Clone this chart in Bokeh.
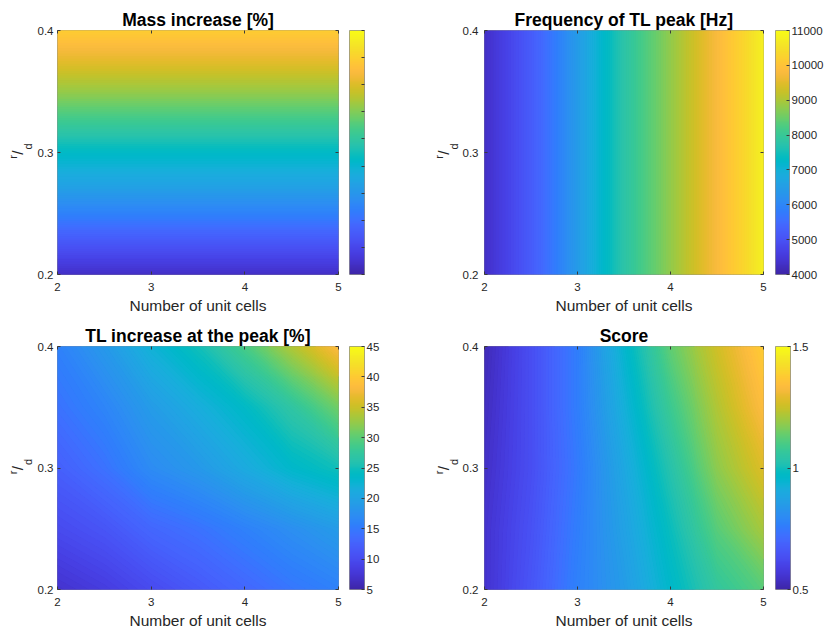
import numpy as np
from bokeh.plotting import figure
from bokeh.models import (LinearColorMapper, FixedTicker, LinearAxis,
                          CustomJSTickFormatter, Range1d)
from bokeh.core.properties import value
from bokeh.layouts import row, column
from bokeh.embed import file_html
from bokeh.resources import INLINE

# ---------------- data ----------------
n_cells = [2.0, 2.5, 3.0, 3.5, 4.0, 4.5, 5.0]
r_over_d = [0.20, 0.25, 0.30, 0.35, 0.40]
n_cells_fine = [2.0, 2.25, 2.5, 2.75, 3.0, 3.25, 3.5, 3.75, 4.0, 4.25, 4.5, 4.75, 5.0]
r_over_d_fine = [0.200, 0.225, 0.250, 0.275, 0.300, 0.325, 0.350, 0.375, 0.400]

x_ticks = [2, 3, 4, 5]
y_ticks = [0.2, 0.3, 0.4]

# Mass increase [%] vs r/d (constant along number of unit cells)
mass_increase = [2.36, 3.35, 4.43, 5.42, 6.23, 7.22, 8.21, 9.11, 9.92]
mass_cbar = [2, 11]
mass_cbar_ticks = [2, 3, 4, 5, 6, 7, 8, 9, 10, 11]

# Frequency of TL peak [Hz] vs number of unit cells
peak_frequency = [4280, 4700, 5190, 5750, 6450, 7150, 7780, 8300, 8800,
                  9300, 9800, 10250, 10790]
freq_cbar = [4000, 11000]
freq_cbar_ticks = [4000, 5000, 6000, 7000, 8000, 9000, 10000, 11000]

# TL increase at the peak [%]; rows = r/d (0.2 -> 0.4), cols = unit cells (2 -> 5)
tl_increase = [
    [7.0, 8.2, 9.8, 11.4, 13.0, 14.6, 15.8],
    [9.8, 11.0, 13.0, 14.2, 15.8, 17.4, 19.0],
    [12.2, 14.2, 17.0, 18.6, 21.0, 23.4, 25.0],
    [14.2, 16.2, 19.0, 21.4, 23.8, 27.0, 31.0],
    [15.8, 18.6, 22.2, 25.0, 29.0, 33.8, 38.6],
]
tl_cbar = [5, 45]
tl_cbar_ticks = [5, 10, 15, 20, 25, 30, 35, 40, 45]

# Score; rows = r/d (0.2 -> 0.4), cols = unit cells (2 -> 5)
score = [
    [0.55, 0.65, 0.77, 0.85, 0.96, 1.06, 1.12],
    [0.55, 0.64, 0.76, 0.87, 0.99, 1.12, 1.21],
    [0.54, 0.63, 0.75, 0.89, 1.03, 1.18, 1.28],
    [0.53, 0.63, 0.76, 0.92, 1.08, 1.22, 1.34],
    [0.52, 0.63, 0.76, 0.95, 1.13, 1.26, 1.38],
]
score_cbar = [0.5, 1.5]
score_cbar_ticks = [0.5, 1.0, 1.5]
score_cbar_labels = ["0.5", "1", "1.5"]

titles = ["Mass increase [%]", "Frequency of TL peak [Hz]",
          "TL increase at the peak [%]", "Score"]
x_label = "Number of unit cells"
y_label_parts = ["r", "/", "d"]

# ---------------- style ----------------
PARULA64 = [
    [0.2422, 0.1504, 0.6603], [0.2504, 0.1650, 0.7076], [0.2578, 0.1818, 0.7511],
    [0.2647, 0.1978, 0.7952], [0.2706, 0.2147, 0.8364], [0.2751, 0.2342, 0.8710],
    [0.2783, 0.2559, 0.8991], [0.2803, 0.2782, 0.9221], [0.2813, 0.3006, 0.9414],
    [0.2810, 0.3228, 0.9579], [0.2795, 0.3447, 0.9717], [0.2760, 0.3667, 0.9829],
    [0.2699, 0.3892, 0.9906], [0.2602, 0.4123, 0.9952], [0.2440, 0.4358, 0.9988],
    [0.2206, 0.4603, 0.9973], [0.1963, 0.4847, 0.9892], [0.1834, 0.5074, 0.9798],
    [0.1786, 0.5289, 0.9682], [0.1764, 0.5499, 0.9520], [0.1687, 0.5703, 0.9359],
    [0.1540, 0.5902, 0.9218], [0.1460, 0.6091, 0.9079], [0.1380, 0.6276, 0.8973],
    [0.1248, 0.6459, 0.8883], [0.1113, 0.6635, 0.8763], [0.0952, 0.6798, 0.8598],
    [0.0689, 0.6948, 0.8394], [0.0297, 0.7082, 0.8163], [0.0036, 0.7203, 0.7917],
    [0.0067, 0.7312, 0.7660], [0.0433, 0.7411, 0.7394], [0.0964, 0.7500, 0.7120],
    [0.1408, 0.7584, 0.6842], [0.1717, 0.7670, 0.6554], [0.1938, 0.7758, 0.6251],
    [0.2161, 0.7843, 0.5923], [0.2470, 0.7918, 0.5567], [0.2906, 0.7973, 0.5188],
    [0.3406, 0.8008, 0.4789], [0.3909, 0.8029, 0.4354], [0.4456, 0.8024, 0.3909],
    [0.5044, 0.7993, 0.3480], [0.5616, 0.7942, 0.3045], [0.6174, 0.7876, 0.2612],
    [0.6720, 0.7793, 0.2227], [0.7242, 0.7698, 0.1910], [0.7738, 0.7598, 0.1646],
    [0.8203, 0.7498, 0.1535], [0.8634, 0.7406, 0.1596], [0.9035, 0.7330, 0.1774],
    [0.9393, 0.7288, 0.2100], [0.9728, 0.7298, 0.2394], [0.9956, 0.7434, 0.2371],
    [0.9970, 0.7659, 0.2199], [0.9952, 0.7893, 0.2028], [0.9892, 0.8136, 0.1885],
    [0.9786, 0.8386, 0.1766], [0.9676, 0.8639, 0.1643], [0.9610, 0.8890, 0.1537],
    [0.9597, 0.9135, 0.1423], [0.9628, 0.9373, 0.1265], [0.9691, 0.9606, 0.1064],
    [0.9769, 0.9839, 0.0805],
]
_pa = np.array(PARULA64)
_t64 = np.linspace(0, 1, len(_pa))


def parula(t):
    t = min(max(float(t), 0.0), 1.0)
    rgb = [int(round(255 * np.interp(t, _t64, _pa[:, k]))) for k in range(3)]
    return "#%02x%02x%02x" % tuple(rgb)


PALETTE = [parula(t) for t in np.linspace(0, 1, 256)]

FONT = "Liberation Sans"
TXT = "#262626"
TICK = "#3a3a3a"
FRAME = "#8f8f8f"
N_LEVELS = 128
FILL_PASSES = 2

# layout (pixels)
TOP_H, BOT_H = 317, 315
TOP_BT, BOT_BT = 30, 29
TOP_FH, BOT_FH = 244, 243
CB_FRAME = 15
YL_L, L_W, L_LEFT, L_RIGHT, CL_W = 34, 315, 22, 11, 64
YL_R, R_W, R_LEFT, R_RIGHT, CR_W = 46, 316, 23, 12, 51
RD_STYLE = [(-43.5, -4.5, "11px"), (-39, 0, "15.5px"), (-29, 6, "11px")]


def empty_fmt():
    return CustomJSTickFormatter(code="return ''")


def extent(nodes):
    a = np.asarray(nodes, dtype=float)
    step = a[1] - a[0]
    return a[0] - step / 2.0, a[-1] - a[0] + step


def style_axis(ax, size="11.5px"):
    ax.axis_line_color = None
    ax.major_tick_in = 3
    ax.major_tick_out = 0
    ax.major_tick_line_color = TICK
    ax.minor_tick_line_color = None
    ax.major_label_text_font = FONT
    ax.major_label_text_font_size = size
    ax.major_label_text_color = TXT


def main_fig(title, width, left, right, height, top, frame_h, ylab_standoff):
    p = figure(width=width, height=height,
               x_range=Range1d(x_ticks[0], x_ticks[-1]),
               y_range=Range1d(y_ticks[0], y_ticks[-1]),
               min_border_left=left, min_border_right=right,
               min_border_top=top, min_border_bottom=height - top - frame_h,
               toolbar_location=None, output_backend="svg", title=title)
    p.title.text_font = FONT
    p.title.text_font_size = "17.5px"
    p.title.text_font_style = "bold"
    p.title.text_color = "black"
    p.title.align = "center"
    p.title.standoff = 1
    p.grid.visible = False
    p.outline_line_color = FRAME
    p.outline_line_width = 1
    p.background_fill_color = "white"
    p.border_fill_color = "white"

    p.xaxis.ticker = FixedTicker(ticks=x_ticks)
    p.yaxis.ticker = FixedTicker(ticks=y_ticks)
    for ax in (p.xaxis[0], p.yaxis[0]):
        style_axis(ax)
    p.xaxis.major_label_standoff = 8
    p.yaxis.major_label_standoff = ylab_standoff
    p.xaxis.axis_label = x_label
    p.xaxis.axis_label_text_font = FONT
    p.xaxis.axis_label_text_font_size = "15.5px"
    p.xaxis.axis_label_text_font_style = "normal"
    p.xaxis.axis_label_text_color = TXT
    p.xaxis.axis_label_standoff = 3

    top_ax = LinearAxis(ticker=FixedTicker(ticks=x_ticks), formatter=empty_fmt())
    right_ax = LinearAxis(ticker=FixedTicker(ticks=y_ticks), formatter=empty_fmt())
    for ax in (top_ax, right_ax):
        style_axis(ax, size="0px")
        ax.major_label_standoff = 0
    p.add_layout(top_ax, "above")
    p.add_layout(right_ax, "right")
    return p


def shade(p, mapper, xs, ys, z, lo, hi, img, ix, iy, idw, idh):
    # coarse cells underneath (hide anti-aliasing seams), then interpolated bands
    p.image(image=[np.asarray(img, float)], x=ix, y=iy, dw=idw, dh=idh,
            color_mapper=mapper)
    levels = np.linspace(lo, hi, N_LEVELS + 1)
    mids = 0.5 * (levels[:-1] + levels[1:])
    fills = [parula((m - lo) / (hi - lo)) for m in mids]
    for _ in range(FILL_PASSES):
        p.contour(x=np.asarray(xs, float), y=np.asarray(ys, float),
                  z=np.asarray(z, float), levels=levels,
                  fill_color=fills, line_color=None)


def ylab_fig(width, height, top, frame_h, frame_left_local):
    f = figure(width=width, height=height, x_range=Range1d(0, width),
               y_range=Range1d(0, frame_h), x_axis_location=None, y_axis_location=None,
               min_border_left=0, min_border_right=0, min_border_top=top,
               min_border_bottom=height - top - frame_h,
               toolbar_location=None, output_backend="svg")
    f.grid.visible = False
    f.outline_line_color = None
    f.background_fill_color = "white"
    f.border_fill_color = "white"
    mid = frame_h / 2.0
    for txt, (xo, yo, fs) in zip(y_label_parts, RD_STYLE):
        f.text(x=[frame_left_local + xo], y=[mid + yo], text=[txt], angle=np.pi / 2,
               text_align="center", text_baseline="middle", text_font=value(FONT),
               text_font_size=fs, text_color=TXT)
    return f


def cbar_fig(mapper, lo, hi, ticks, width, height, top, frame_h, labels=None,
             show_labels=True):
    c = figure(width=width, height=height, x_range=Range1d(0, 1), y_range=Range1d(lo, hi),
               x_axis_location=None, y_axis_location="right",
               min_border_left=0, min_border_right=width - CB_FRAME,
               min_border_top=top, min_border_bottom=height - top - frame_h,
               toolbar_location=None, output_backend="svg")
    grad = np.linspace(lo, hi, 256).reshape(256, 1)
    c.image(image=[grad], x=0, y=lo, dw=1, dh=hi - lo, color_mapper=mapper)
    c.grid.visible = False
    c.outline_line_color = FRAME
    c.background_fill_color = "white"
    c.border_fill_color = "white"
    ax = c.yaxis[0]
    ax.ticker = FixedTicker(ticks=ticks)
    style_axis(ax)
    ax.major_label_standoff = 2
    if not show_labels:
        ax.formatter = empty_fmt()
        ax.major_label_text_font_size = "0px"
        ax.major_label_standoff = 0
    elif labels is not None:
        ax.major_label_overrides = {t: l for t, l in zip(ticks, labels)}
    return c


xspan = x_ticks[-1] - x_ticks[0]
yspan = y_ticks[-1] - y_ticks[0]

# ---- panel 1: mass increase ----
m1 = LinearColorMapper(palette=PALETTE, low=mass_cbar[0], high=mass_cbar[1])
y1 = ylab_fig(YL_L, TOP_H, TOP_BT, TOP_FH, YL_L + L_LEFT)
p1 = main_fig(titles[0], L_W, L_LEFT, L_RIGHT, TOP_H, TOP_BT, TOP_FH, 4)
mass_arr = np.array(mass_increase, dtype=float)
ey0, edh = extent(r_over_d_fine)
shade(p1, m1, [x_ticks[0], x_ticks[-1]], r_over_d_fine,
      np.column_stack([mass_arr, mass_arr]), mass_cbar[0], mass_cbar[1],
      mass_arr.reshape(-1, 1), x_ticks[0], ey0, xspan, edh)
c1 = cbar_fig(m1, mass_cbar[0], mass_cbar[1], mass_cbar_ticks, CL_W, TOP_H, TOP_BT,
              TOP_FH, show_labels=False)

# ---- panel 2: frequency ----
m2 = LinearColorMapper(palette=PALETTE, low=freq_cbar[0], high=freq_cbar[1])
y2 = ylab_fig(YL_R, TOP_H, TOP_BT, TOP_FH, YL_R + R_LEFT)
p2 = main_fig(titles[1], R_W, R_LEFT, R_RIGHT, TOP_H, TOP_BT, TOP_FH, 6)
freq_arr = np.array(peak_frequency, dtype=float)
ex0, edw = extent(n_cells_fine)
shade(p2, m2, n_cells_fine, [y_ticks[0], y_ticks[-1]],
      np.vstack([freq_arr, freq_arr]), freq_cbar[0], freq_cbar[1],
      freq_arr.reshape(1, -1), ex0, y_ticks[0], edw, yspan)
c2 = cbar_fig(m2, freq_cbar[0], freq_cbar[1], freq_cbar_ticks, CR_W, TOP_H, TOP_BT,
              TOP_FH)

# ---- panel 3: TL increase ----
ex0, edw = extent(n_cells)
ey0, edh = extent(r_over_d)
m3 = LinearColorMapper(palette=PALETTE, low=tl_cbar[0], high=tl_cbar[1])
y3 = ylab_fig(YL_L, BOT_H, BOT_BT, BOT_FH, YL_L + L_LEFT)
p3 = main_fig(titles[2], L_W, L_LEFT, L_RIGHT, BOT_H, BOT_BT, BOT_FH, 4)
shade(p3, m3, n_cells, r_over_d, tl_increase, tl_cbar[0], tl_cbar[1],
      tl_increase, ex0, ey0, edw, edh)
c3 = cbar_fig(m3, tl_cbar[0], tl_cbar[1], tl_cbar_ticks, CL_W, BOT_H, BOT_BT, BOT_FH)

# ---- panel 4: score ----
m4 = LinearColorMapper(palette=PALETTE, low=score_cbar[0], high=score_cbar[1])
y4 = ylab_fig(YL_R, BOT_H, BOT_BT, BOT_FH, YL_R + R_LEFT)
p4 = main_fig(titles[3], R_W, R_LEFT, R_RIGHT, BOT_H, BOT_BT, BOT_FH, 6)
shade(p4, m4, n_cells, r_over_d, score, score_cbar[0], score_cbar[1],
      score, ex0, ey0, edw, edh)
c4 = cbar_fig(m4, score_cbar[0], score_cbar[1], score_cbar_ticks, CR_W, BOT_H, BOT_BT,
              BOT_FH, labels=score_cbar_labels)

layout = column(row(y1, p1, c1, y2, p2, c2), row(y3, p3, c3, y4, p4, c4))
open("out.html", "w").write(file_html(layout, INLINE))
